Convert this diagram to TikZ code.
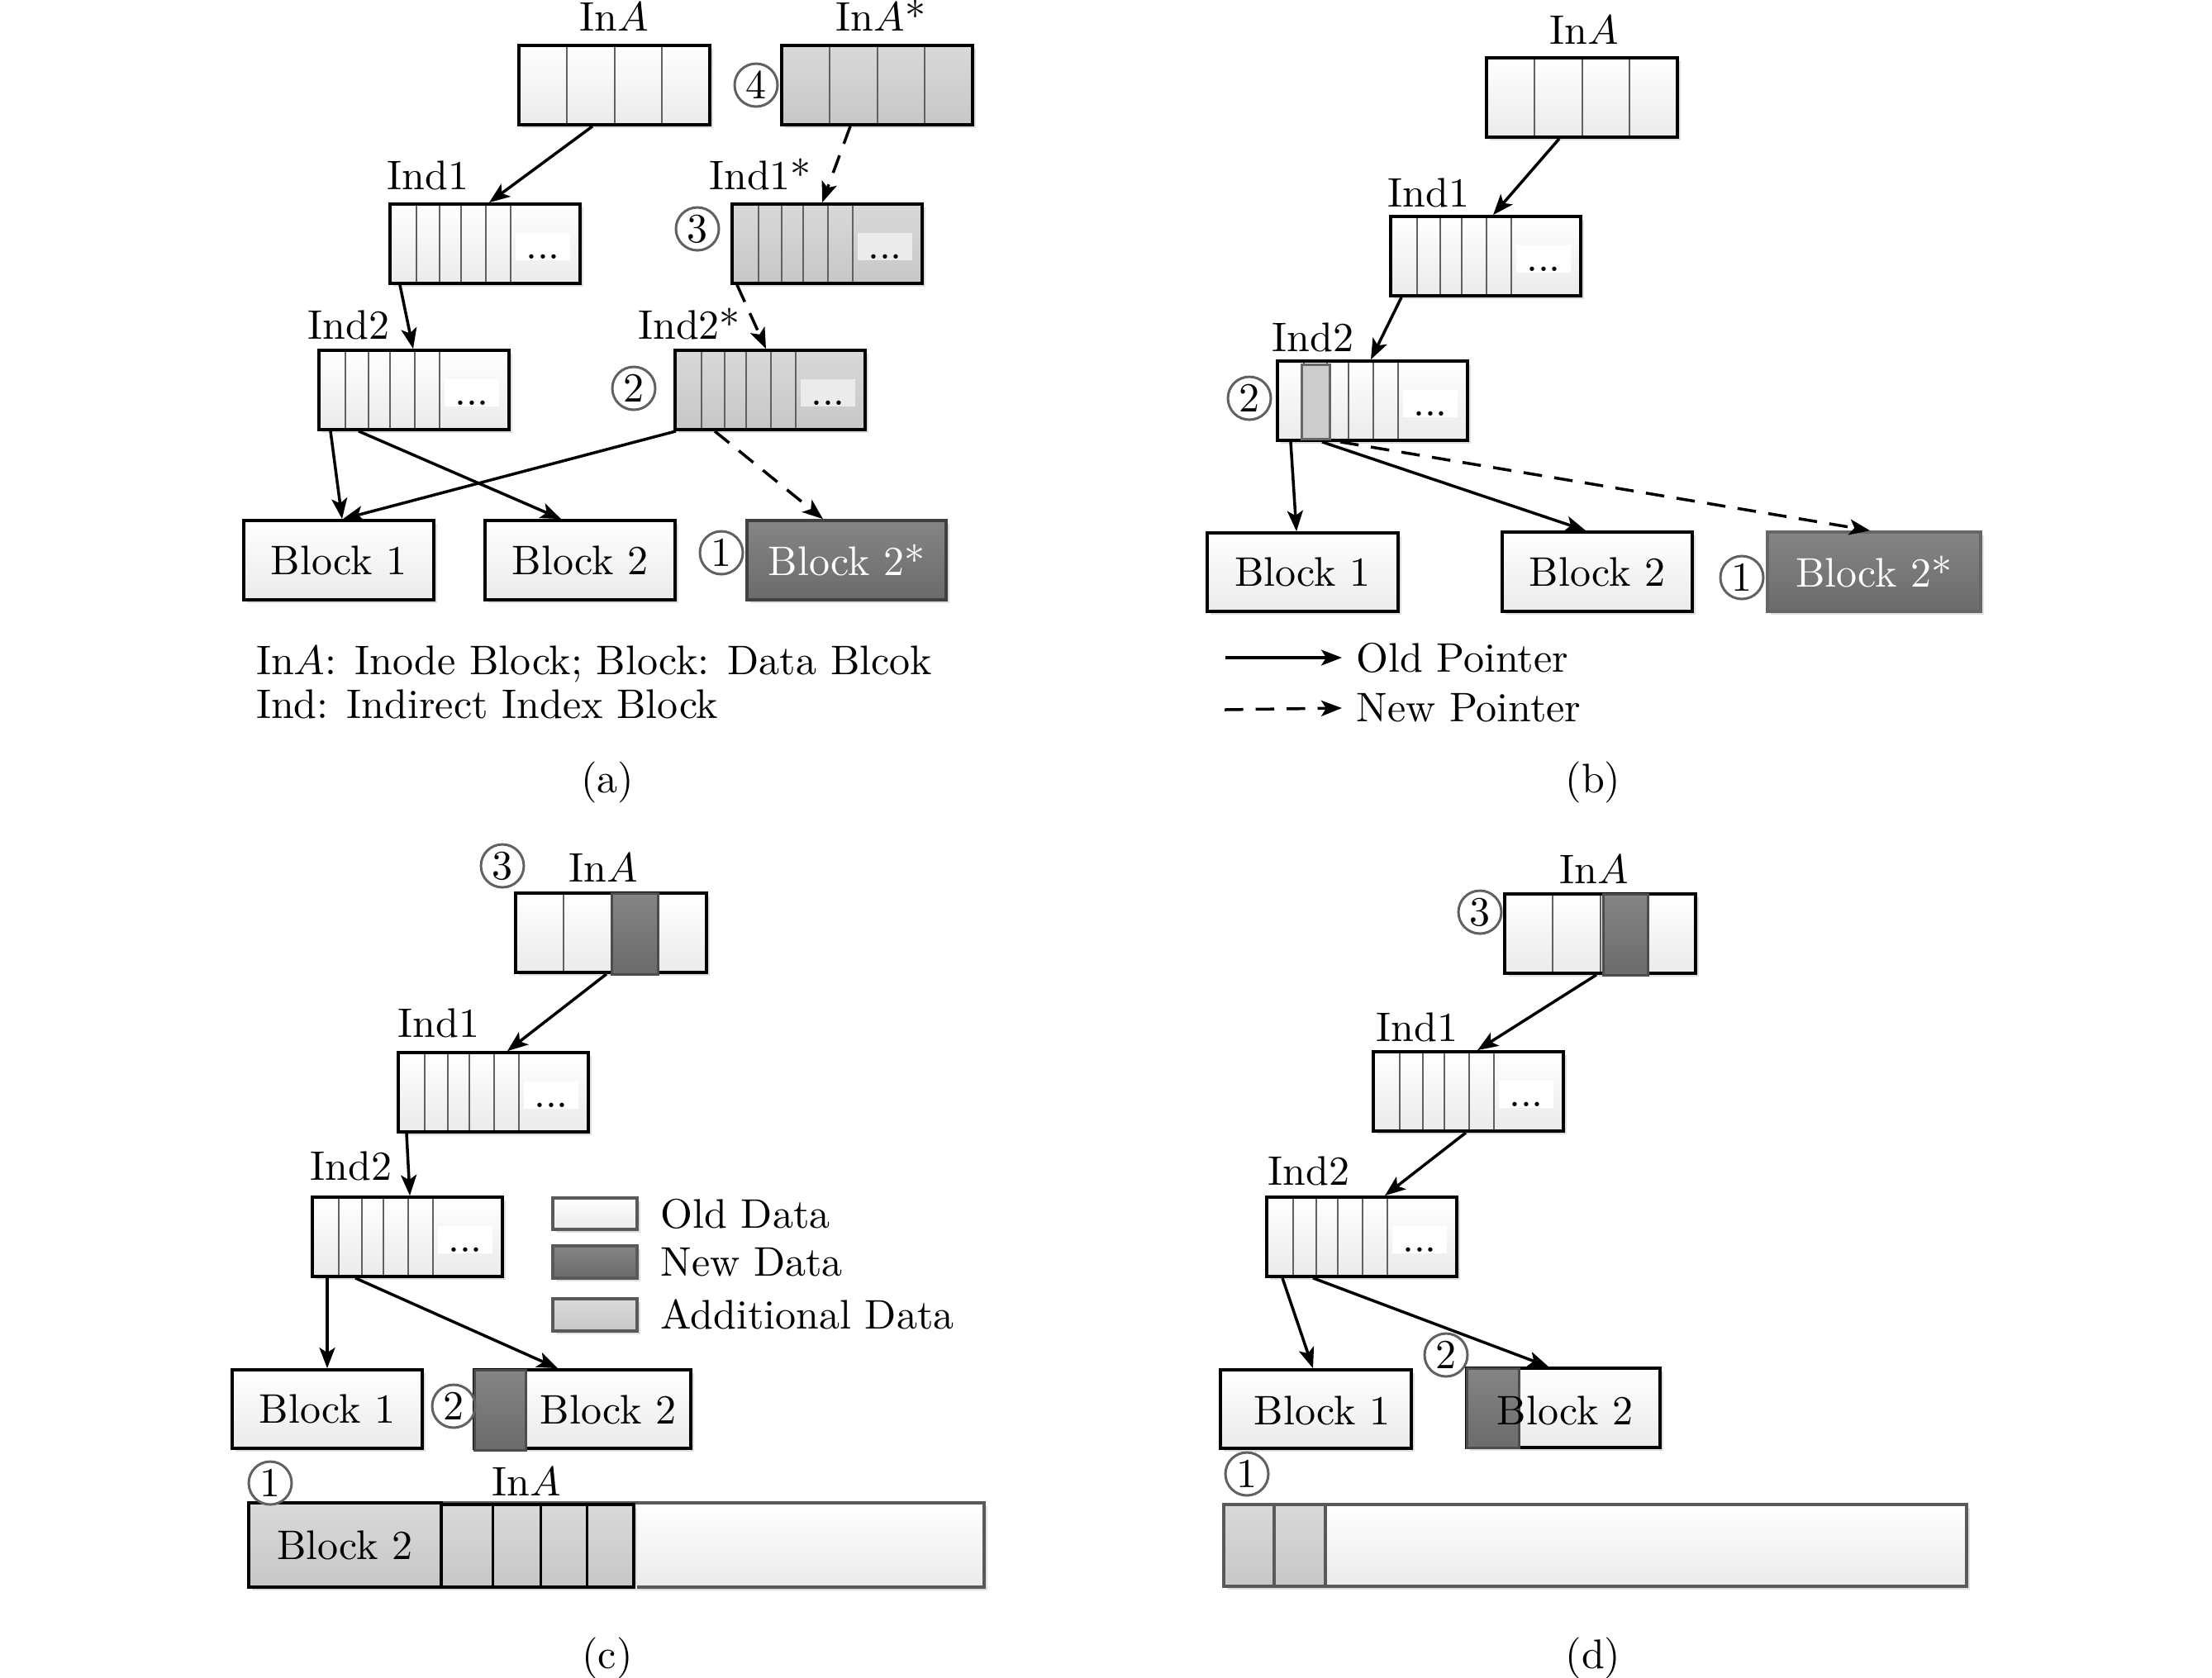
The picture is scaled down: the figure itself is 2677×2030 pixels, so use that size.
\documentclass[tikz,border=0pt]{standalone}
\usetikzlibrary{arrows.meta,calc,fit,shadows}
\newcommand{\mkbox}[6]{\node[#1,inner sep=0pt,fit={(#3,#4) (#5,#6)}] (#2) {};}
% Ind block: style, name, x1, y1, patch colour
\newcommand{\indbox}[5]{%
  \mkbox{#1}{#2}{#3}{#4}{#3+230}{#4+96}
  \foreach \o in {32,60,86,116,146}{\draw[div] ({#3+\o},{#4+2}) -- ({#3+\o},{#4+94});}
  \fill[#5] ({#3+152},{#4+35}) rectangle ({#3+218},{#4+68});
  \node[dotsn] (#2d) at ({#3+185},{#4+66}) {...};}
% Inode block: style, name, x1, y1
\newcommand{\inabox}[4]{%
  \mkbox{#1}{#2}{#3}{#4}{#3+231}{#4+96}
  \foreach \o in {58,116,173}{\draw[div] ({#3+\o},{#4+2}) -- ({#3+\o},{#4+94});}}
\begin{document}
\begin{tikzpicture}[x=0.2pt,y=-0.2pt,
  every node/.style={font=\fontsize{10}{12}\selectfont},
  shsh/.style={drop shadow={shadow xshift=0.7pt,shadow yshift=-0.7pt,fill=black!12,opacity=1}},
  old/.style={draw=black,line width=0.75pt,top color=white,bottom color=black!8,shsh},
  oldg/.style={draw=black!65,line width=0.75pt,top color=white,bottom color=black!8,shsh},
  gry/.style={draw=black,line width=0.75pt,top color=black!15,bottom color=black!22,shsh},
  gryg/.style={draw=black!65,line width=0.75pt,top color=black!15,bottom color=black!22},
  drk/.style={draw=black!75,line width=0.75pt,top color=black!48,bottom color=black!58,shsh},
  drkc/.style={draw=black!70,line width=0.6pt,top color=black!48,bottom color=black!58},
  div/.style={draw=black!62,line width=0.45pt},
  bdiv/.style={draw=black,line width=0.6pt},
  num/.style={circle,draw=black!62,line width=0.6pt,inner sep=0pt,minimum size=10.4pt},
  arr/.style={-{Stealth[length=5pt,width=3.8pt,inset=1.2pt]},line width=0.7pt},
  darr/.style={arr,dash pattern=on 4.5pt off 3pt},
  lbl/.style={anchor=base,inner sep=0pt},
  dotsn/.style={anchor=base,inner sep=0pt},
  leg/.style={anchor=west}]
\useasboundingbox[fill=white] (0,0) rectangle (2677,2030);

% ================= (a) =================
\inabox{old}{aIna}{628}{55}
\node[lbl] (aInaL) at (743,37) {In$A$};
\inabox{gry}{aInaS}{946}{55}
\node[lbl] (aInaSL) at (1066,37) {In$A$*};
\node[num] (a4) at (915,103) {4};
\indbox{old}{aInd1}{472}{247}{white}
\node[lbl] (aInd1L) at (518,229) {Ind1};
\indbox{gry}{aInd1S}{886}{247}{black!8}
\node[lbl] (aInd1SL) at (920,229) {Ind1*};
\node[num] (a3) at (844,277) {3};
\indbox{old}{aInd2}{386}{424}{white}
\node[lbl] (aInd2L) at (422,410) {Ind2};
\indbox{gry}{aInd2S}{817}{424}{black!8}
\node[lbl] (aInd2SL) at (834,410) {Ind2*};
\node[num] (a2) at (767,470) {2};
\mkbox{old}{aB1}{295}{630}{525}{726}
\node (aB1T) at (aB1.center) {Block 1};
\mkbox{old}{aB2}{587}{630}{817}{726}
\node (aB2T) at (aB2.center) {Block 2};
\mkbox{drk}{aB2S}{904}{630}{1145}{726}
\node[text=white] (aB2ST) at (aB2S.center) {Block 2*};
\node[num] (a1) at (873,669) {1};
\draw[arr] (aIna.south -| 717,0) -- (aInd1.north -| 592,0);
\draw[darr] (aInaS.south -| 1029,0) -- (aInd1S.north -| 995,0);
\draw[arr] (aInd1.south -| 484,0) -- (aInd2.north -| 500,0);
\draw[darr] (aInd1S.south -| 892,0) -- (aInd2S.north -| 927,0);
\draw[arr] (aInd2.south -| 400,0) -- (aB1.north -| 414,0);
\draw[arr] (aInd2.south -| 434,0) -- (aB2.north -| 679,0);
\draw[arr] (aInd2S.south -| 818,0) -- (aB1.north -| 415,0);
\draw[darr] (aInd2S.south -| 865,0) -- (aB2S.north -| 996,0);
\node[anchor=base west,inner sep=0pt] (aLeg1) at (309,816) {In$A$: Inode Block; Block: Data Blcok};
\node[anchor=base west,inner sep=0pt] (aLeg2) at (309,869) {Ind: Indirect Index Block};
\node (capA) at (735,947) {(a)};

% ================= (b) =================
\inabox{old}{bIna}{1799}{70}
\node[lbl] (bInaL) at (1917,53) {In$A$};
\indbox{old}{bInd1}{1683}{262}{white}
\node[lbl] (bInd1L) at (1729,250) {Ind1};
\indbox{old}{bInd2}{1546}{437}{white}
\draw[fill=black!20,draw=black!60,line width=0.6pt] (1575,441) rectangle (1609,531);
\node[lbl] (bInd2L) at (1589,425) {Ind2};
\node[num] (b2) at (1512,482) {2};
\mkbox{old}{bB1}{1461}{645}{1692}{740}
\node (bB1T) at (bB1.center) {Block 1};
\mkbox{old}{bB2}{1818}{644}{2048}{740}
\node (bB2T) at (bB2.center) {Block 2};
\mkbox{drk,draw=black!60}{bB2S}{2139}{644}{2397}{740}
\node[text=white] (bB2ST) at (bB2S.center) {Block 2*};
\node[num] (b1) at (2108,699) {1};
\draw[arr] (bIna.south -| 1887,0) -- (bInd1.north -| 1807,0);
\draw[arr] (bInd1.south -| 1696,0) -- (bInd2.north -| 1659,0);
\draw[arr] (bInd2.south -| 1562,0) -- (bB1.north -| 1569,0);
\draw[arr] (bInd2.south -| 1600,0) -- (bB2.north -| 1919,0);
\draw[darr] (bInd2.south -| 1622,0) -- (bB2S.north -| 2263,0);
\coordinate (bOldS) at (1483,796);
\coordinate (bNewS) at (1482,859);
\node[leg] (bOld) at (1624,796) {Old Pointer};
\node[leg] (bNew) at (1624,857) {New Pointer};
\draw[arr] (bOldS) -- (bOld.west);
\draw[darr] (bNewS) -- (bNew.west);
\node (capB) at (1928,947) {(b)};

% ================= (c) =================
\inabox{old}{cIna}{624}{1081}
\draw[drkc] (740,1081) rectangle (796,1179);
\node[lbl] (cInaL) at (730,1067) {In$A$};
\node[num] (c3) at (608,1048) {3};
\indbox{old}{cInd1}{482}{1274}{white}
\node[lbl] (cInd1L) at (531,1255) {Ind1};
\indbox{old}{cInd2}{378}{1449}{white}
\node[lbl] (cInd2L) at (425,1428) {Ind2};
\mkbox{oldg}{cLegOldB}{669}{1450}{771}{1488}
\mkbox{drk,draw=black!65}{cLegNewB}{669}{1508}{771}{1547}
\mkbox{gryg,shsh}{cLegAddB}{669}{1572}{771}{1611}
\node[leg] (cLegOld) at (782,1469) {Old Data};
\node[leg] (cLegNew) at (782,1528) {New Data};
\node[leg] (cLegAdd) at (782,1591) {Additional Data};
\mkbox{old}{cB1}{281}{1658}{511}{1753}
\node (cB1T) at (cB1.center) {Block 1};
\mkbox{old}{cB2}{574}{1658}{836}{1753}
\draw[drkc] (574,1658) rectangle (636,1755);
\node (cB2T) at (736,1706) {Block 2};
\node[num] (c2) at (549,1702) {2};
\draw[arr] (cIna.south -| 734,0) -- (cInd1.north -| 614,0);
\draw[arr] (cInd1.south -| 492,0) -- (cInd2.north -| 496,0);
\draw[arr] (cInd2.south -| 396,0) -- (cB1.north -| 396,0);
\draw[arr] (cInd2.south -| 430,0) -- (cB2.north -| 675,0);
\mkbox{oldg}{cBar}{301}{1819}{1191}{1921}
\mkbox{gry}{cBarB2}{301}{1819}{534}{1921}
\node (cBarB2T) at (cBarB2.center) {Block 2};
\mkbox{gry}{cBarIna}{534}{1821}{767}{1921}
\foreach \xx in {596,654,710}{\draw[bdiv] (\xx,1822) -- (\xx,1920);}
\node[lbl] (cBarInaL) at (637,1810) {In$A$};
\node[num,fill=white] (c1) at (327,1795) {1};
\node (capC) at (735,2007) {(c)};

% ================= (d) =================
\inabox{old}{dIna}{1821}{1082}
\draw[drkc] (1940,1082) rectangle (1994,1180);
\node[lbl] (dInaL) at (1929,1069) {In$A$};
\node[num] (d3) at (1791,1104) {3};
\indbox{old}{dInd1}{1662}{1273}{white}
\node[lbl] (dInd1L) at (1715,1260) {Ind1};
\indbox{old}{dInd2}{1533}{1449}{white}
\node[lbl] (dInd2L) at (1584,1434) {Ind2};
\mkbox{old}{dB1}{1477}{1658}{1708}{1753}
\node (dB1T) at (1600,1707) {Block 1};
\mkbox{old}{dB2}{1775}{1656}{2009}{1752}
\draw[drkc] (1775,1656) rectangle (1838,1752);
\node (dB2T) at (1894,1707) {Block 2};
\node[num] (d2) at (1750,1640) {2};
\draw[arr] (dIna.south -| 1932,0) -- (dInd1.north -| 1788,0);
\draw[arr] (dInd1.south -| 1774,0) -- (dInd2.north -| 1676,0);
\draw[arr] (dInd2.south -| 1552,0) -- (dB1.north -| 1589,0);
\draw[arr] (dInd2.south -| 1589,0) -- (dB2.north -| 1874,0);
\mkbox{oldg}{dBar}{1481}{1821}{2380}{1920}
\draw[gryg] (1481,1821) rectangle (1542,1920);
\draw[gryg] (1542,1821) rectangle (1604,1920);
\node[num] (d1) at (1509,1784) {1};
\node (capD) at (1928,2007) {(d)};
\end{tikzpicture}
\end{document}
